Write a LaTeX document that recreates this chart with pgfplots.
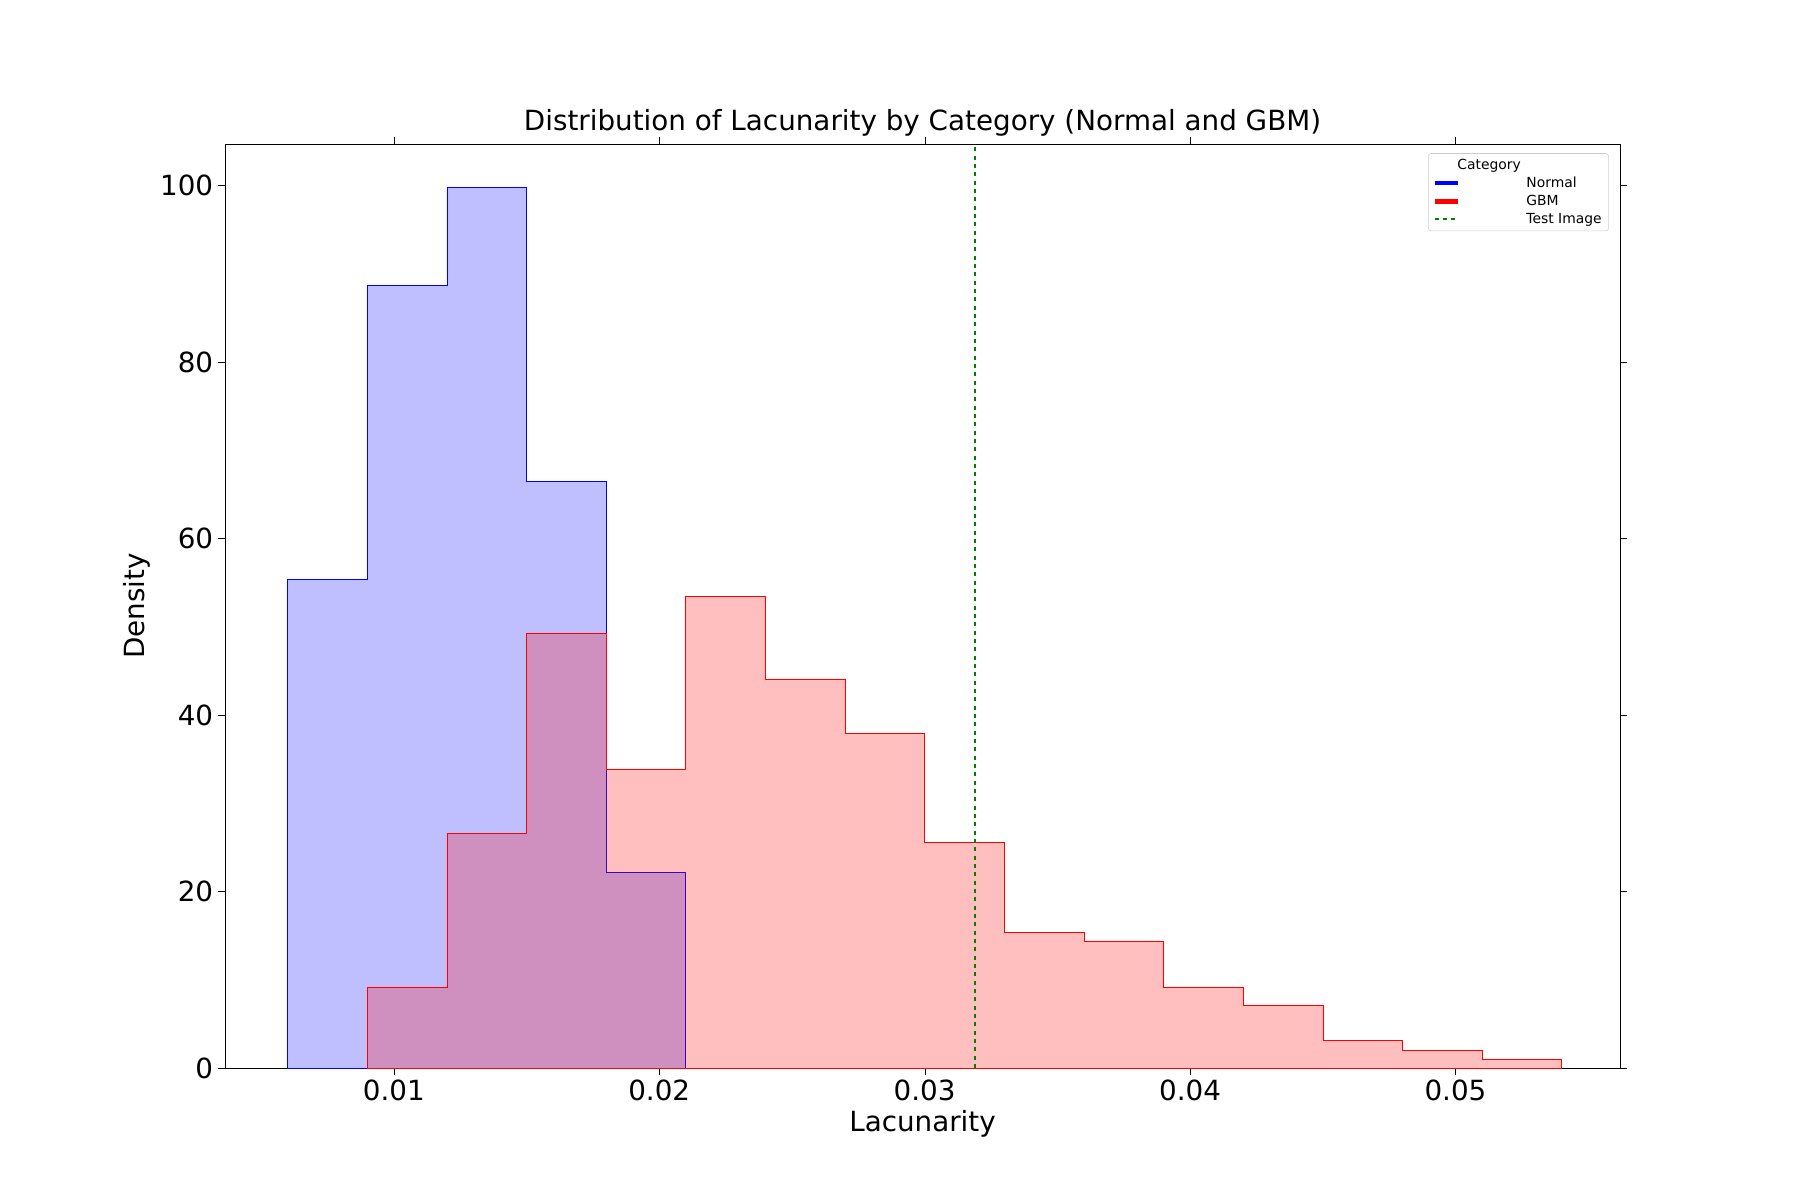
\documentclass[border=0pt]{standalone}
\usepackage{pgfplots}
\pgfplotsset{compat=1.18}
\usepackage{fontspec}
\setmainfont{DejaVu Sans}
\begin{document}
\begin{tikzpicture}
\path[use as bounding box] (0,0) rectangle (1296pt,864pt);
\begin{axis}[
  at={(162pt,95pt)}, anchor=south west,
  scale only axis, width=1004.4pt, height=665.3pt,
  xmin=0.00364, xmax=0.0562, ymin=0, ymax=104.7,
  xtick={0.01,0.02,0.03,0.04,0.05},
  xticklabels={0.01,0.02,0.03,0.04,0.05},
  ytick={0,20,40,60,80,100},
  /pgf/number format/assume math mode=true,
  ticklabel style={font=\fontsize{20}{24}\selectfont},
  tick align=outside, tick style={black}, major tick length=5pt,
  xlabel={Lacunarity}, ylabel={Density},
  label style={font=\fontsize{20}{24}\selectfont},
  title={Distribution of Lacunarity by Category (Normal and GBM)},
  title style={font=\fontsize{20}{24}\selectfont, yshift=-4pt},
  legend style={at={(0.992,0.99)}, anchor=north east, font=\fontsize{10}{12}\selectfont, draw=black!20, rounded corners=2pt, cells={anchor=west}},
  legend cell align=left,
  scaled x ticks=false,
]
\addlegendimage{legend image code/.code={\node[font=\fontsize{10}{12}\selectfont] at (0.5cm,0) {Category};}}
\addlegendentry{}
\addlegendimage{blue, line width=3pt}\addlegendentry{Normal}
\addlegendimage{red, line width=3pt}\addlegendentry{GBM}
\addlegendimage{green!50!black, dashed, line width=1.3pt}\addlegendentry{Test Image}
\addplot[const plot, draw=blue, fill=blue, fill opacity=0.25, draw opacity=1, forget plot] coordinates {
(0.006,0)(0.006,55.4)(0.009,88.7)(0.012,99.8)(0.015,66.5)(0.018,22.2)(0.021,22.2)(0.021,0)} \closedcycle;
\addplot[const plot, draw=red, fill=red, fill opacity=0.25, draw opacity=1, forget plot] coordinates {
(0.009,0)(0.009,9.2)(0.012,26.6)(0.015,49.3)(0.018,33.9)(0.021,53.4)(0.024,44.1)(0.027,37.9)(0.030,25.6)(0.033,15.4)(0.036,14.4)(0.039,9.2)(0.042,7.1)(0.045,3.1)(0.048,2.0)(0.051,1.0)(0.054,1.0)(0.054,0)} \closedcycle;
\addplot[green!50!black, dashed, line width=1.3pt, forget plot] coordinates {(0.0319,0)(0.0319,104.7)};
\end{axis}
\end{tikzpicture}
\end{document}
